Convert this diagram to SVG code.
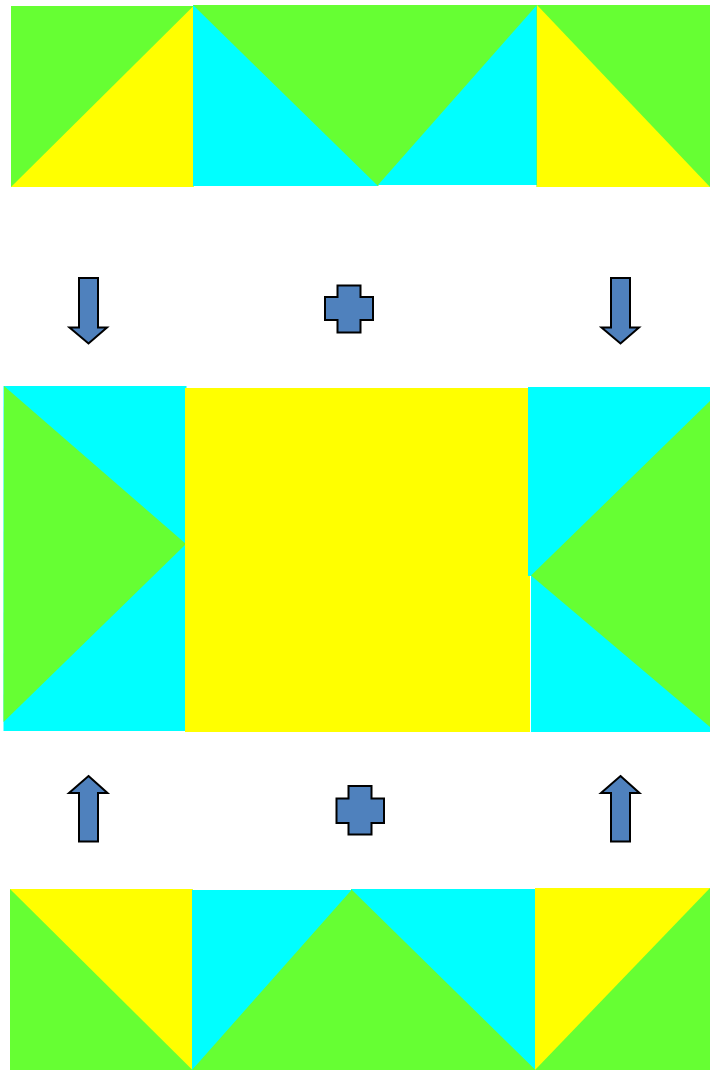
<svg xmlns="http://www.w3.org/2000/svg" width="710" height="1070" viewBox="0 0 710 1070">
<style>
.g{fill:#66FF33}
.c{fill:#00FFFF}
.y{fill:#FFFF00}
.a{fill:#4F81BD;stroke:#000;stroke-width:2;stroke-linejoin:miter}
</style>
<rect width="710" height="1070" fill="#fff"/>
<g id="top-row">
  <g id="top-1">
    <rect class="g" x="11" y="6" width="182.5" height="181"/>
    <polygon class="y" points="11,187 193.5,6 193.5,187"/>
  </g>
  <g id="top-2">
    <rect class="g" x="193" y="5" width="185.5" height="181"/>
    <polygon class="c" points="193,5 193,186 378,186"/>
  </g>
  <g id="top-3">
    <rect class="g" x="378" y="5" width="159" height="180"/>
    <polygon class="c" points="378,185 537,5 537,185"/>
  </g>
  <g id="top-4">
    <rect class="g" x="536.5" y="5" width="173.5" height="182"/>
    <polygon class="y" points="537,5 537,187 710,187"/>
  </g>
</g>
<g id="middle-row">
  <g id="mid-left">
    <rect class="c" x="3.5" y="386" width="183" height="345"/>
    <polygon class="g" points="4,386 186,544 3.5,722"/>
  </g>
  <g id="mid-center">
    <rect class="y" x="185" y="388" width="345" height="344"/>
  </g>
  <g id="mid-right">
    <rect class="c" x="528" y="387" width="182" height="189"/>
    <rect class="c" x="531" y="576" width="179" height="156"/>
    <polygon class="g" points="710,401 531,575.5 710,727"/>
  </g>
</g>
<g id="bottom-row">
  <g id="bot-1">
    <rect class="g" x="10" y="889" width="182.5" height="181"/>
    <polygon class="y" points="10,889 192.5,889 192.5,1070"/>
  </g>
  <g id="bot-2">
    <rect class="g" x="192" y="890" width="159.5" height="180"/>
    <polygon class="c" points="192,890 351.5,890 192,1070"/>
  </g>
  <g id="bot-3">
    <rect class="g" x="351" y="889" width="184.5" height="181"/>
    <polygon class="c" points="351,889 535.5,889 535.5,1070"/>
  </g>
  <g id="bot-4">
    <rect class="g" x="535" y="888" width="175" height="182"/>
    <polygon class="y" points="535,888 710,888 535,1070"/>
  </g>
</g>
<g id="connectors">
  <g id="arrow-down-left"><polygon class="a" points="79,278 98,278 98,327.5 107,327.5 88.5,343.5 69.5,327.5 79,327.5"/></g>
  <g id="arrow-down-right"><polygon class="a" points="611,278 630,278 630,327.5 639,327.5 620.5,343.5 601.5,327.5 611,327.5"/></g>
  <g id="arrow-up-left"><polygon class="a" points="88.5,776 107.5,793 98,793 98,841.5 79,841.5 79,793 69,793"/></g>
  <g id="arrow-up-right"><polygon class="a" points="620.5,776 639.5,793 630,793 630,841.5 611,841.5 611,793 601,793"/></g>
  <g id="plus-top"><polygon class="a" points="337.5,285.5 360.5,285.5 360.5,297 373,297 373,320 360.5,320 360.5,332.5 337.5,332.5 337.5,320 325,320 325,297 337.5,297"/></g>
  <g id="plus-bottom"><polygon class="a" points="348.5,786 371.5,786 371.5,798.5 384,798.5 384,823 371.5,823 371.5,834.5 348.5,834.5 348.5,823 336.5,823 336.5,798.5 348.5,798.5"/></g>
</g>
</svg>
